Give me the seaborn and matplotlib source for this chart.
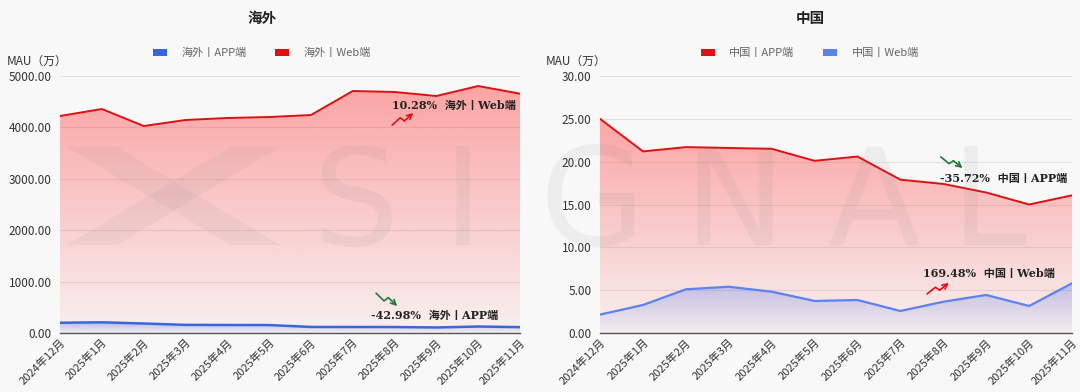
import numpy as np
import matplotlib
matplotlib.use('Agg')
import matplotlib.pyplot as plt
import seaborn as sns
from matplotlib.colors import to_rgb
from matplotlib.patches import Patch, Polygon

# ---- data ----
months = ['2024年12月', '2025年1月', '2025年2月', '2025年3月', '2025年4月', '2025年5月',
          '2025年6月', '2025年7月', '2025年8月', '2025年9月', '2025年10月', '2025年11月']

overseas_app = [200, 208, 185, 158, 156, 155, 118, 117, 116, 108, 126, 114]
overseas_web = [4222, 4358, 4027, 4144, 4183, 4202, 4241, 4708, 4689, 4611, 4805, 4656]

china_app = [25.0, 21.2, 21.7, 21.6, 21.5, 20.1, 20.6, 17.9, 17.4, 16.4, 15.0, 16.07]
china_web = [2.15, 3.27, 5.1, 5.4, 4.82, 3.74, 3.85, 2.57, 3.65, 4.44, 3.15, 5.8]

RED = '#e01010'
RED_FILL = '#ff3030'
BLUE_L = '#3a66dc'
BLUE_R = '#5b82ee'
GREEN = '#1f7a3a'

sns.set_theme(style='white')
plt.rcParams['font.family'] = ['Noto Sans CJK SC', 'DejaVu Sans']
BG = '#f8f8f8'

fig = plt.figure(figsize=(10.8, 3.92), dpi=100, facecolor=BG)
ax1 = fig.add_axes([0.0556, 0.1505, 0.4259, 0.6556])
ax2 = fig.add_axes([0.5556, 0.1505, 0.4370, 0.6556])

x = np.arange(len(months))


def grad_fill(ax, y, color, a_top, a_bot, z):
    poly = ax.fill_between(x, y, 0, color='none', lw=0, zorder=z)
    rgb = to_rgb(color)
    n = 200
    img = np.zeros((n, 1, 4))
    img[:, :, :3] = rgb
    img[:, 0, 3] = np.linspace(a_bot, a_top, n)
    im = ax.imshow(img, aspect='auto', origin='lower',
                   extent=[x[0], x[-1], 0, max(y)], zorder=z)
    im.set_clip_path(poly.get_paths()[0], transform=ax.transData)


def style_axis(ax, ymax, step):
    ax.set_facecolor(BG)
    ax.set_xlim(x[0], x[-1])
    ax.set_ylim(0, ymax)
    ticks = np.arange(0, ymax + step / 2, step)
    ax.set_yticks(ticks)
    ax.set_yticklabels([f'{v:.2f}' for v in ticks], fontsize=8.5, color='#333333')
    ax.set_xticks(x)
    ax.set_xticklabels(months, rotation=45, ha='right', rotation_mode='anchor',
                       fontsize=8, color='#333333')
    ax.tick_params(axis='y', length=0, pad=6)
    ax.tick_params(axis='x', length=0, pad=3)
    ax.grid(axis='y', color='#e2e2e2', lw=0.8, zorder=0)
    ax.set_axisbelow(True)
    for s in ['top', 'right', 'left']:
        ax.spines[s].set_visible(False)
    ax.spines['bottom'].set_color('#555555')
    ax.spines['bottom'].set_linewidth(1.0)
    ax.spines['bottom'].set_zorder(10)
    ax.set_xlabel('')
    ax.set_ylabel('')
    ax.text(-0.115, 1.03, 'MAU（万）', transform=ax.transAxes, fontsize=8.5,
            color='#333333', ha='left', va='bottom')


def header(cx, title, items):
    fig.text(cx, 1 - 18 / 392, title, fontsize=10.5, fontweight='bold',
             color='#222222', ha='center', va='center')
    handles = [Patch(facecolor=c, edgecolor='none', label=l) for l, c in items]
    leg = fig.legend(handles=handles, loc='center', bbox_to_anchor=(cx, 1 - 53 / 392),
                     ncol=2, frameon=False, fontsize=8, handlelength=1.25,
                     handleheight=0.6, columnspacing=2.6, handletextpad=1.3)
    for t in leg.get_texts():
        t.set_color('#666666')


def trend(ax, x0, y0, h, up, color):
    # small zigzag arrow icon in axes fraction coords
    w = 0.046
    xs = [x0, x0 + 0.38 * w, x0 + 0.58 * w, x0 + w]
    if up:
        ys = [y0, y0 + 0.6 * h, y0 + 0.35 * h, y0 + h]
    else:
        ys = [y0 + h, y0 + 0.4 * h, y0 + 0.65 * h, y0]
    ax.plot(xs[:3], ys[:3], transform=ax.transAxes, color=color, lw=1.2, zorder=12)
    ax.annotate('', xy=(xs[3], ys[3]), xytext=(xs[2], ys[2]),
                xycoords='axes fraction', textcoords='axes fraction',
                arrowprops=dict(arrowstyle='->', color=color, lw=1.2,
                                shrinkA=0, shrinkB=0, mutation_scale=9),
                zorder=12)


ann_font = dict(fontsize=8, fontweight='bold', color='#222222',
                family=['DejaVu Serif', 'Noto Sans CJK SC'], zorder=12)

# ---- left: 海外 ----
grad_fill(ax1, overseas_web, RED_FILL, 0.42, 0.04, 2)
grad_fill(ax1, overseas_app, BLUE_L, 0.35, 0.02, 3)
sns.lineplot(x=x, y=overseas_web, ax=ax1, color=RED, lw=1.4, zorder=4)
sns.lineplot(x=x, y=overseas_app, ax=ax1, color=BLUE_L, lw=1.8, zorder=5)
style_axis(ax1, 5000, 1000)
header(262 / 1080, '海外', [('海外丨APP端', BLUE_L), ('海外丨Web端', RED)])
ax1.text(0.991, 0.885, '10.28%  海外丨Web端', transform=ax1.transAxes,
         ha='right', va='center', **ann_font)
trend(ax1, 0.722, 0.809, 0.047, True, RED)
ax1.text(0.952, 0.068, '-42.98%  海外丨APP端', transform=ax1.transAxes,
         ha='right', va='center', **ann_font)
trend(ax1, 0.687, 0.105, 0.05, False, GREEN)

# ---- right: 中国 ----
grad_fill(ax2, china_app, RED_FILL, 0.42, 0.04, 2)
grad_fill(ax2, china_web, BLUE_R, 0.35, 0.02, 3)
sns.lineplot(x=x, y=china_app, ax=ax2, color=RED, lw=1.4, zorder=4)
sns.lineplot(x=x, y=china_web, ax=ax2, color=BLUE_R, lw=1.6, zorder=5)
style_axis(ax2, 30, 5)
header(810 / 1080, '中国', [('中国丨APP端', RED), ('中国丨Web端', BLUE_R)])
ax2.text(0.99, 0.6, '-35.72%  中国丨APP端', transform=ax2.transAxes,
         ha='right', va='center', **ann_font)
trend(ax2, 0.722, 0.642, 0.043, False, GREEN)
ax2.text(0.964, 0.23, '169.48%  中国丨Web端', transform=ax2.transAxes,
         ha='right', va='center', **ann_font)
trend(ax2, 0.693, 0.152, 0.043, True, RED)

# ---- watermark ----
def px(xp, yp):
    return (xp / 1080, 1 - yp / 392)


for pts in ([(67, 147), (117, 147), (280, 245), (230, 245)],
            [(230, 147), (280, 147), (117, 245), (67, 245)]):
    fig.add_artist(Polygon([px(*p) for p in pts], closed=True,
                           transform=fig.transFigure, facecolor='#777777',
                           edgecolor='none', alpha=0.07, zorder=20))
wm_letters = ['S', 'I', 'G', 'N', 'A', 'L']
wm_x = [0.330, 0.428, 0.548, 0.680, 0.810, 0.915]
for ch, xp in zip(wm_letters, wm_x):
    fig.text(xp, 0.47, ch, fontsize=98, color='#777777', alpha=0.08,
             ha='center', va='center', family='DejaVu Sans')

plt.savefig('out.png', dpi=100, facecolor=BG)
plt.close()
